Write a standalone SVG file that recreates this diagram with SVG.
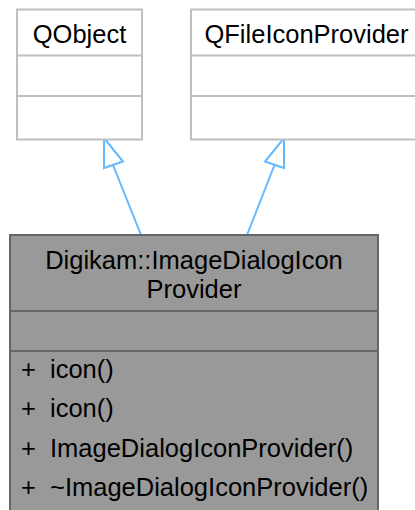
<svg xmlns="http://www.w3.org/2000/svg" width="415" height="510" viewBox="0 0 415 510">
<style>
  .t { font-family: "Liberation Sans", Arial, sans-serif; font-size: 25.5px; fill: #000; }
  .c { text-anchor: middle; }
  .base { fill: #ffffff; stroke: #bfbfbf; stroke-width: 2; }
  .main { fill: #999999; stroke: #666666; stroke-width: 2; }
  .sepb { stroke: #bfbfbf; stroke-width: 2; }
  .sepm { stroke: #666666; stroke-width: 2; }
  .edge { stroke: #63b8ff; stroke-width: 2; fill: none; }
  .head { stroke: #63b8ff; stroke-width: 2; fill: #ffffff; }
</style>
<g id="connectors">
  <line class="edge" x1="141" y1="235" x2="113" y2="165"/>
  <polygon class="head" points="104,138 123,161.5 104,168"/>
  <line class="edge" x1="247" y1="235" x2="274.5" y2="165"/>
  <polygon class="head" points="284,138 284,168 265,161.5"/>
</g>
<g id="QObject">
  <rect class="base" x="17" y="9.5" width="125" height="130"/>
  <line class="sepb" x1="17" y1="55.5" x2="142" y2="55.5"/>
  <line class="sepb" x1="17" y1="96" x2="142" y2="96"/>
  <text class="t c" x="79.5" y="43.3">QObject</text>
</g>
<g id="QFileIconProvider">
  <rect class="base" x="191" y="9.5" width="232" height="130"/>
  <line class="sepb" x1="191" y1="55.5" x2="423" y2="55.5"/>
  <line class="sepb" x1="191" y1="96" x2="423" y2="96"/>
  <text class="t c" x="306.5" y="43.3">QFileIconProvider</text>
</g>
<g id="ImageDialogIconProvider">
  <rect class="main" x="10" y="235" width="368" height="290"/>
  <line class="sepm" x1="10" y1="311" x2="378" y2="311"/>
  <line class="sepm" x1="10" y1="351" x2="378" y2="351"/>
  <text class="t c" x="194" y="268.5">Digikam::ImageDialogIcon</text>
  <text class="t c" x="194" y="297.5">Provider</text>
  <text class="t" x="21" y="377.5">+</text>
  <text class="t" x="50" y="377.5">icon()</text>
  <text class="t" x="21" y="417">+</text>
  <text class="t" x="50" y="417">icon()</text>
  <text class="t" x="21" y="456.5">+</text>
  <text class="t" x="50" y="456.5">ImageDialogIconProvider()</text>
  <text class="t" x="21" y="496">+</text>
  <text class="t" x="50" y="496">~ImageDialogIconProvider()</text>
</g>
</svg>
